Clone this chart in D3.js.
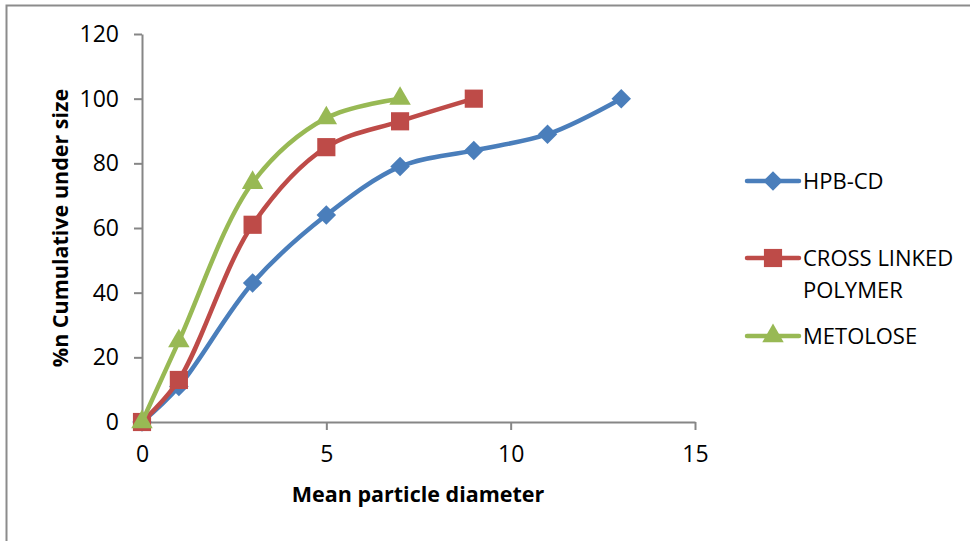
<!DOCTYPE html>
<html>
  <head>
    <meta charset="utf-8">
    <title>Particle size distribution</title>
    <style>
      body { margin: 0; background: #fff; }
      text { font-family: "Open Sans", "Noto Sans", sans-serif; fill: #000; }
      .tick text { font-size: 23px; }
      .axis-title { font-size: 21.5px; font-weight: bold; }
      .legend text { font-size: 22px; }
    </style>
    <script src="https://cdn.jsdelivr.net/npm/d3@7"></script>
  </head>
  <body>
  <script type="text/javascript">
    // data
    var seriesNames = ["HPB-CD", "CROSS LINKED POLYMER", "METOLOSE"];
    var hpbX = [0, 1, 3, 5, 7, 9, 11, 13];
    var hpbY = [0, 11, 43, 64, 79, 84, 89, 100];
    var crossX = [0, 1, 3, 5, 7, 9];
    var crossY = [0, 13, 61, 85, 93, 100];
    var metoX = [0, 1, 3, 5, 7];
    var metoY = [0, 25, 74, 94, 100];
    var xTicks = [0, 5, 10, 15];
    var yTicks = [0, 20, 40, 60, 80, 100, 120];

    var width = 970, height = 541;
    var colors = ["#4A7EBB", "#BE4B48", "#98B954"];
    var shapes = [d3.symbolSquare, d3.symbolSquare, d3.symbolTriangle];
    var sizes = [190, 330, 200];
    var rot = [45, 0, 0];

    var svg = d3.select("body").append("svg")
      .attr("width", width).attr("height", height);

    svg.append("rect").attr("width", width).attr("height", height).attr("fill", "#fff");
    // chart frame (only left and top edges visible)
    svg.append("path").attr("d", "M6.5,541V5.5H970")
      .attr("fill", "none").attr("stroke", "#8c8c8c").attr("stroke-width", 2);

    var x = d3.scaleLinear().domain([0, 15]).range([142, 695]);
    var y = d3.scaleLinear().domain([0, 120]).range([422, 34]);

    var xAxis = svg.append("g").attr("transform", "translate(0," + y(0) + ")")
      .call(d3.axisBottom(x).tickValues(xTicks).tickSize(8).tickSizeOuter(0).tickPadding(9));
    var yAxis = svg.append("g").attr("transform", "translate(" + x(0) + ",0)")
      .call(d3.axisLeft(y).tickValues(yTicks).tickSize(8).tickSizeOuter(0).tickPadding(15));
    [xAxis, yAxis].forEach(function(g){
      g.select(".domain").attr("stroke", "#868686").attr("stroke-width", 2);
      g.selectAll(".tick line").attr("stroke", "#868686").attr("stroke-width", 2);
      g.selectAll(".tick text").attr("fill", "#000");
    });
    xAxis.selectAll(".tick text").attr("dy", "1em");

    svg.append("text").attr("class", "axis-title")
      .attr("x", 418).attr("y", 502).attr("text-anchor", "middle")
      .text("Mean particle diameter");
    svg.append("text").attr("class", "axis-title")
      .attr("transform", "translate(68,228) rotate(-90)").attr("text-anchor", "middle")
      .text("%n Cumulative under size");

    var series = [
      { xs: hpbX, ys: hpbY },
      { xs: crossX, ys: crossY },
      { xs: metoX, ys: metoY }
    ];

    var line = d3.line()
      .x(function(d){ return x(d[0]); })
      .y(function(d){ return y(d[1]); })
      .curve(d3.curveCatmullRom.alpha(0.5));

    series.forEach(function(s, i){
      var pts = s.xs.map(function(v, j){ return [v, s.ys[j]]; });
      svg.append("path").datum(pts)
        .attr("d", line)
        .attr("fill", "none")
        .attr("stroke", colors[i])
        .attr("stroke-width", 4.5)
        .attr("stroke-linejoin", "round");
      svg.selectAll(null).data(pts).enter().append("path")
        .attr("d", d3.symbol().type(shapes[i]).size(sizes[i]))
        .attr("transform", function(d){
          return "translate(" + x(d[0]) + "," + y(d[1]) + ") rotate(" + rot[i] + ")";
        })
        .attr("fill", colors[i]);
    });

    // legend
    var legendY = [181, 258, 336];
    var legend = svg.append("g").attr("class", "legend");
    seriesNames.forEach(function(name, i){
      var g = legend.append("g").attr("transform", "translate(0," + legendY[i] + ")");
      g.append("line").attr("x1", 747).attr("x2", 799).attr("y1", 0).attr("y2", 0)
        .attr("stroke", colors[i]).attr("stroke-width", 4.5).attr("stroke-linecap", "round");
      g.append("path").attr("d", d3.symbol().type(shapes[i]).size(sizes[i]))
        .attr("transform", "translate(773,0) rotate(" + rot[i] + ")")
        .attr("fill", colors[i]);
      var t = g.append("text").attr("x", 803).attr("y", 8);
      if (name == "CROSS LINKED POLYMER") {
        t.append("tspan").attr("x", 803).text("CROSS LINKED");
        t.append("tspan").attr("x", 803).attr("dy", 32).text("POLYMER");
      } else {
        t.text(name);
      }
    });
  </script>
  </body>
</html>
